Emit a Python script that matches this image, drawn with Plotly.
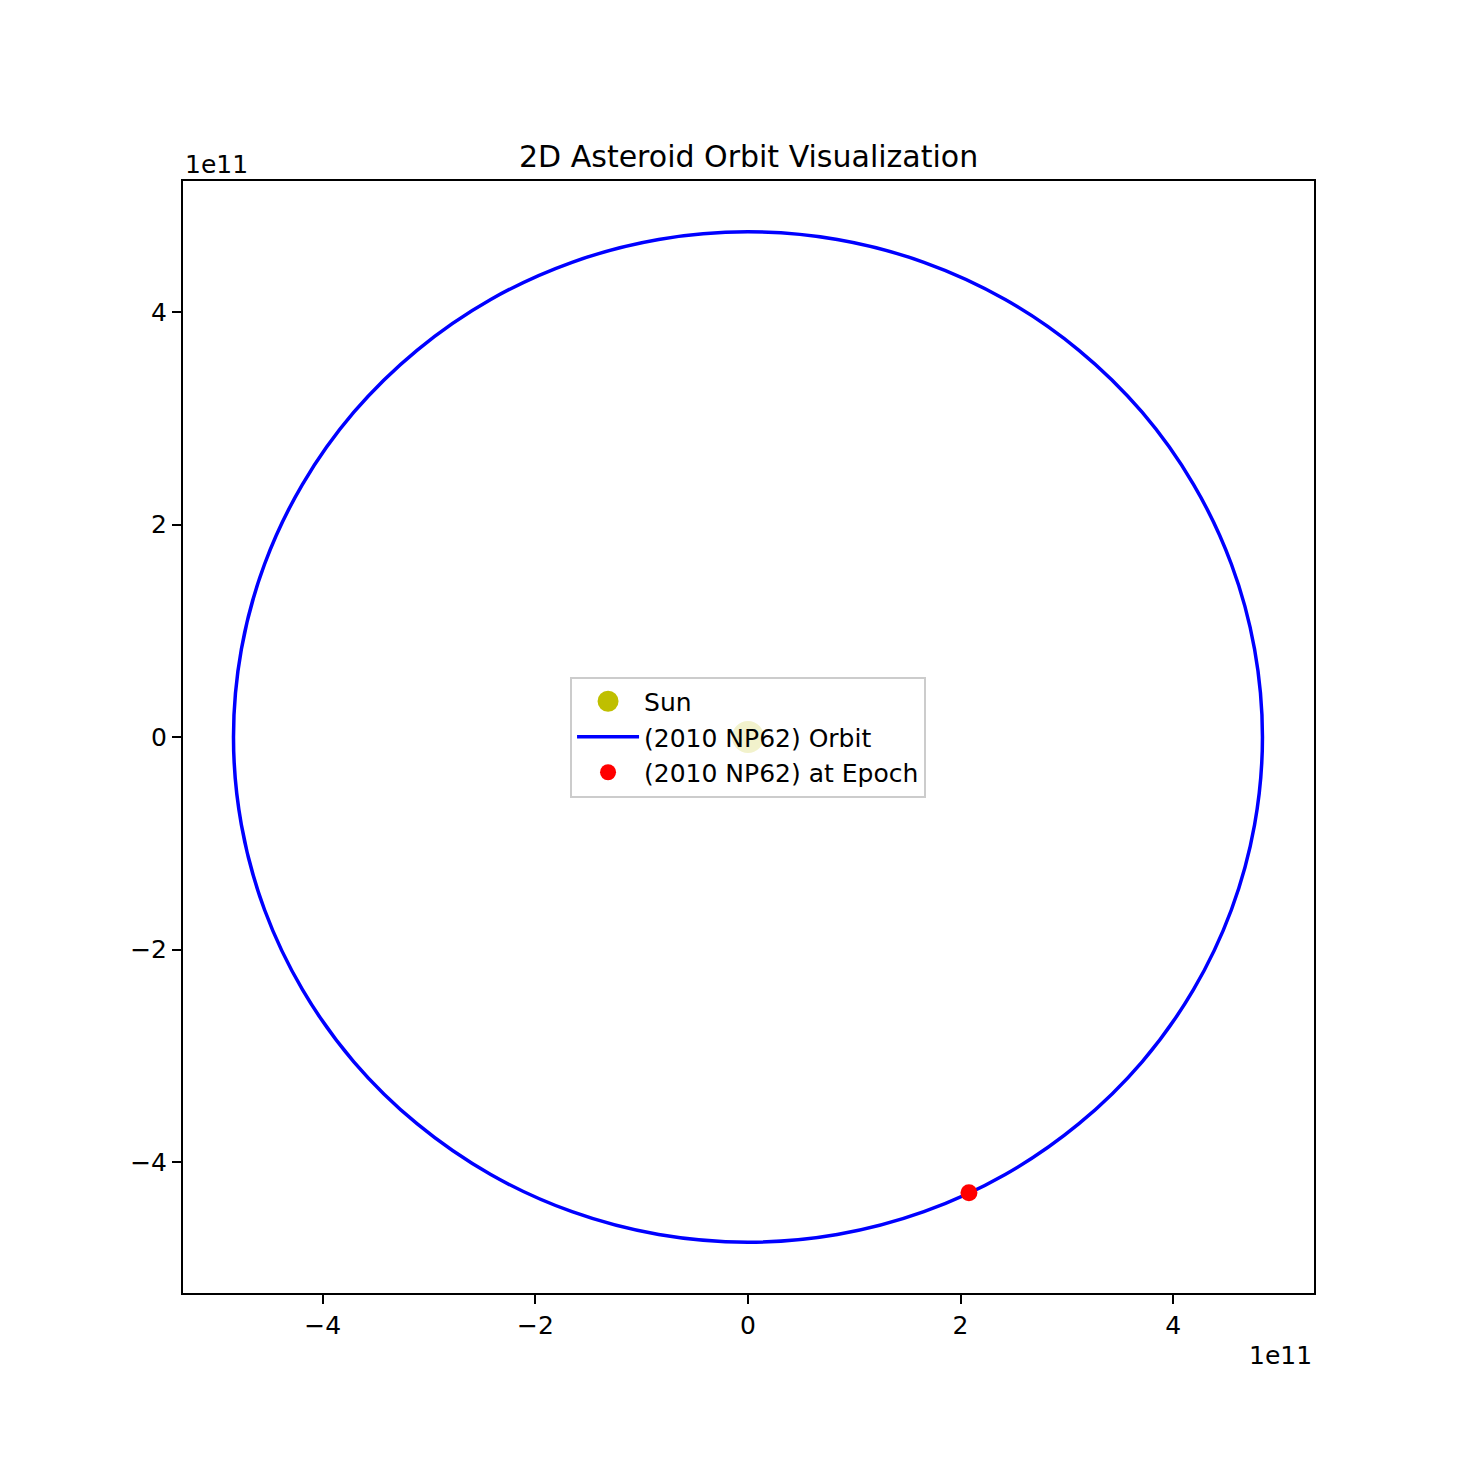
import plotly.graph_objects as go

# Orbit points (units of 1e11 m)
orbit_x = [4.84, 4.766, 4.548, 4.191, 3.708, 3.111, 2.42, 1.655, 0.840, 0.0,
           -0.840, -1.655, -2.42, -3.111, -3.708, -4.191, -4.548, -4.766, -4.84,
           -4.766, -4.548, -4.191, -3.708, -3.111, -2.42, -1.655, -0.840, 0.0,
           0.840, 1.655, 2.42, 3.111, 3.708, 4.191, 4.548, 4.766, 4.84]
orbit_y = [0.0, 0.826, 1.626, 2.378, 3.057, 3.642, 4.118, 4.468, 4.683, 4.755,
           4.683, 4.468, 4.118, 3.642, 3.057, 2.378, 1.626, 0.826, 0.0,
           -0.826, -1.626, -2.378, -3.057, -3.642, -4.118, -4.468, -4.683, -4.755,
           -4.683, -4.468, -4.118, -3.642, -3.057, -2.378, -1.626, -0.826, 0.0]
sun_x = [0.0]
sun_y = [0.0]
epoch_x = [2.079]
epoch_y = [-4.29]
scale = 1e11

tick_vals = [-4, -2, 0, 2, 4]
tick_text = ["\u22124", "\u22122", "0", "2", "4"]

FONT = "DejaVu Sans"

fig = go.Figure()
fig.add_trace(go.Scatter(x=[v * scale for v in sun_x], y=[v * scale for v in sun_y],
                         mode="markers", name="Sun",
                         marker=dict(color="#bfbf00", size=27,
                                     line=dict(color="#bfbf00", width=5))))
fig.add_trace(go.Scatter(x=[v * scale for v in orbit_x], y=[v * scale for v in orbit_y],
                         mode="lines", name="(2010 NP62) Orbit", line_shape="spline",
                         line=dict(color="#0000ff", width=3.5)))
fig.add_trace(go.Scatter(x=[v * scale for v in epoch_x], y=[v * scale for v in epoch_y],
                         mode="markers", name="(2010 NP62) at Epoch",
                         marker=dict(color="#ff0000", size=17)))

axis_common = dict(showgrid=False, zeroline=False, showline=True, mirror=True,
                   linecolor="black", linewidth=2, ticks="outside", ticklen=9,
                   tickwidth=2, tickcolor="black",
                   tickfont=dict(family=FONT, size=25, color="black"))

fig.update_layout(
    width=1460, height=1460,
    margin=dict(l=175, r=154, t=173, b=175),
    paper_bgcolor="white", plot_bgcolor="white",
    showlegend=True,
    legend=dict(x=0.4996, y=0.5, xanchor="center", yanchor="middle",
                itemwidth=62,
                bgcolor="rgba(255,255,255,0.8)", bordercolor="#cccccc", borderwidth=2,
                font=dict(family=FONT, size=25, color="black")),
    xaxis=dict(range=[-5.315 * scale, 5.325 * scale],
               tickvals=[v * scale for v in tick_vals], ticktext=tick_text,
               **axis_common),
    yaxis=dict(range=[-5.233 * scale, 5.233 * scale],
               tickvals=[v * scale for v in tick_vals], ticktext=tick_text,
               **axis_common),
    annotations=[
        dict(text="2D Asteroid Orbit Visualization", x=0.5, y=1, xref="paper", yref="paper",
             xanchor="center", yanchor="bottom", yshift=5, showarrow=False,
             font=dict(family=FONT, size=30, color="black")),
        dict(text="1e11", x=0, y=1, xref="paper", yref="paper",
             xanchor="left", yanchor="bottom", yshift=0, showarrow=False,
             font=dict(family=FONT, size=25, color="black")),
        dict(text="1e11", x=1, y=0, xref="paper", yref="paper",
             xanchor="right", yanchor="top", yshift=-46, showarrow=False,
             font=dict(family=FONT, size=25, color="black")),
    ],
)

fig.write_html("out.html")
